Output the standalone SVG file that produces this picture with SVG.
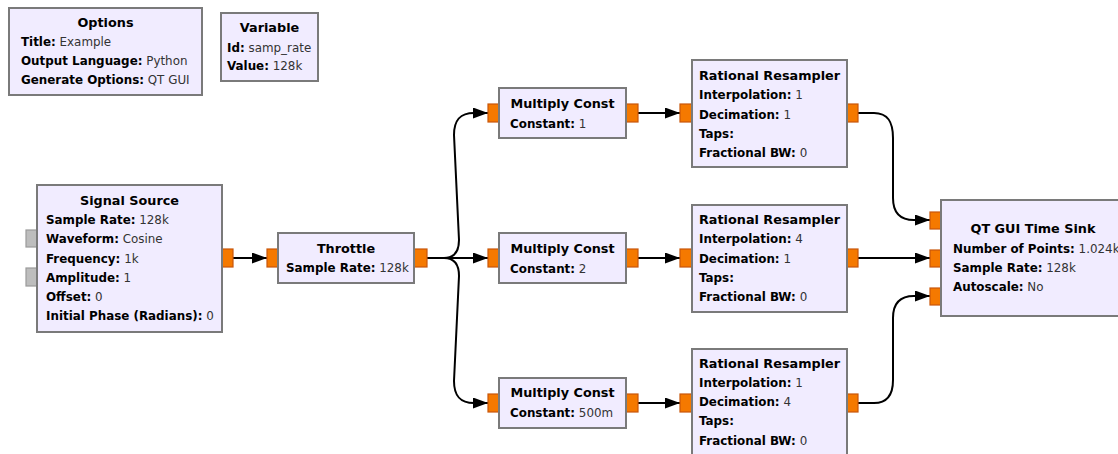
<svg xmlns="http://www.w3.org/2000/svg" width="1118" height="454" viewBox="0 0 1118 454">
  <style>
    .blk { fill: #F1ECFF; stroke: #7a7a7a; stroke-width: 2; }
    .title { font-family: "DejaVu Sans", "Liberation Sans", sans-serif; font-size: 12.8px; font-weight: bold; fill: #000; text-anchor: middle; }
    .row { font-family: "DejaVu Sans", "Liberation Sans", sans-serif; font-size: 11.9px; fill: #333; }
    .row .k { font-weight: bold; fill: #000; }
    .port { fill: #F57900; stroke: #C8560A; stroke-width: 1.2; }
    .gport { fill: #BDBDBD; stroke: #9a9a9a; stroke-width: 1.2; }
    .wire { fill: none; stroke: #000; stroke-width: 2; marker-end: url(#arrow); }
  </style>
  <defs>
    <marker id="arrow" markerUnits="userSpaceOnUse" markerWidth="16" markerHeight="12" refX="15" refY="5.5" orient="auto">
      <path d="M0,0 L15,5.5 L0,11 z" fill="#000"/>
    </marker>
  </defs>
  <rect width="1118" height="454" fill="#fff"/>

  <!-- connections -->
  <g id="connections">
    <path class="wire" d="M233,258 H267"/>
    <path class="wire" d="M427,258 H488"/>
    <path class="wire" d="M427,258 H444 C454,258 459,252 459,240 L454,135 C454,120 460,113 474,113 H488"/>
    <path class="wire" d="M427,258 H444 C454,258 459,264 459,276 L454,381 C454,396 460,403 474,403 H488"/>
    <path class="wire" d="M638,113 H680"/>
    <path class="wire" d="M638,258 H680"/>
    <path class="wire" d="M638,403 H680"/>
    <path class="wire" d="M858,113 H874 C888,113 893,122 893,138 L893,198 C893,212 900,220 914,220 H930"/>
    <path class="wire" d="M858,258 H930"/>
    <path class="wire" d="M858,403 H874 C888,403 893,394 893,380 L893,318 C893,304 900,296 914,296 H930"/>
  </g>

  <!-- Options -->
  <g id="options">
    <rect class="blk" x="9" y="8" width="193" height="87"/>
    <text class="title" x="105.5" y="27">Options</text>
    <text class="row" x="21" y="46"><tspan class="k">Title:</tspan> Example</text>
    <text class="row" x="21" y="65"><tspan class="k">Output Language:</tspan> Python</text>
    <text class="row" x="21" y="84"><tspan class="k">Generate Options:</tspan> QT GUI</text>
  </g>

  <!-- Variable -->
  <g id="variable">
    <rect class="blk" x="221" y="13" width="97" height="68"/>
    <text class="title" x="269.5" y="32">Variable</text>
    <text class="row" x="227" y="52"><tspan class="k">Id:</tspan> samp_rate</text>
    <text class="row" x="227" y="70"><tspan class="k">Value:</tspan> 128k</text>
  </g>

  <!-- Signal Source -->
  <g id="signal_source">
    <rect class="gport" x="26" y="230" width="11" height="17"/>
    <rect class="gport" x="26" y="268" width="11" height="18"/>
    <rect class="port" x="222" y="249" width="11" height="18"/>
    <rect class="blk" x="37" y="185" width="185" height="147"/>
    <text class="title" x="129.5" y="205">Signal Source</text>
    <text class="row" x="46" y="224"><tspan class="k">Sample Rate:</tspan> 128k</text>
    <text class="row" x="46" y="243"><tspan class="k">Waveform:</tspan> Cosine</text>
    <text class="row" x="46" y="263"><tspan class="k">Frequency:</tspan> 1k</text>
    <text class="row" x="46" y="282"><tspan class="k">Amplitude:</tspan> 1</text>
    <text class="row" x="46" y="301"><tspan class="k">Offset:</tspan> 0</text>
    <text class="row" x="46" y="320"><tspan class="k">Initial Phase (Radians):</tspan> 0</text>
  </g>

  <!-- Throttle -->
  <g id="throttle">
    <rect class="port" x="267" y="249" width="11" height="18"/>
    <rect class="port" x="414" y="249" width="13" height="18"/>
    <rect class="blk" x="278" y="233" width="136" height="50"/>
    <text class="title" x="346" y="253">Throttle</text>
    <text class="row" x="286" y="272"><tspan class="k">Sample Rate:</tspan> 128k</text>
  </g>

  <!-- Multiply Const blocks -->
  <g id="multiply_const_0">
    <rect class="port" x="488" y="104" width="11" height="18"/>
    <rect class="port" x="626" y="104" width="12" height="18"/>
    <rect class="blk" x="499" y="88" width="127" height="50"/>
    <text class="title" x="562.5" y="108">Multiply Const</text>
    <text class="row" x="510" y="128"><tspan class="k">Constant:</tspan> 1</text>
  </g>
  <g id="multiply_const_1">
    <rect class="port" x="488" y="249" width="11" height="18"/>
    <rect class="port" x="626" y="249" width="12" height="18"/>
    <rect class="blk" x="499" y="233" width="127" height="50"/>
    <text class="title" x="562.5" y="253">Multiply Const</text>
    <text class="row" x="510" y="273"><tspan class="k">Constant:</tspan> 2</text>
  </g>
  <g id="multiply_const_2">
    <rect class="port" x="488" y="394" width="11" height="18"/>
    <rect class="port" x="626" y="394" width="12" height="18"/>
    <rect class="blk" x="499" y="378" width="127" height="50"/>
    <text class="title" x="562.5" y="397">Multiply Const</text>
    <text class="row" x="510" y="417"><tspan class="k">Constant:</tspan> 500m</text>
  </g>

  <!-- Rational Resampler blocks -->
  <g id="rational_resampler_0">
    <rect class="port" x="680" y="104" width="12" height="18"/>
    <rect class="port" x="847" y="104" width="11" height="18"/>
    <rect class="blk" x="692" y="60" width="155" height="107"/>
    <text class="title" x="769.5" y="80">Rational Resampler</text>
    <text class="row" x="699" y="99"><tspan class="k">Interpolation:</tspan> 1</text>
    <text class="row" x="699" y="119"><tspan class="k">Decimation:</tspan> 1</text>
    <text class="row" x="699" y="138"><tspan class="k">Taps:</tspan></text>
    <text class="row" x="699" y="157"><tspan class="k">Fractional BW:</tspan> 0</text>
  </g>
  <g id="rational_resampler_1">
    <rect class="port" x="680" y="249" width="12" height="18"/>
    <rect class="port" x="847" y="249" width="11" height="18"/>
    <rect class="blk" x="692" y="205" width="155" height="107"/>
    <text class="title" x="769.5" y="224">Rational Resampler</text>
    <text class="row" x="699" y="243"><tspan class="k">Interpolation:</tspan> 4</text>
    <text class="row" x="699" y="263"><tspan class="k">Decimation:</tspan> 1</text>
    <text class="row" x="699" y="282"><tspan class="k">Taps:</tspan></text>
    <text class="row" x="699" y="301"><tspan class="k">Fractional BW:</tspan> 0</text>
  </g>
  <g id="rational_resampler_2">
    <rect class="port" x="680" y="394" width="12" height="18"/>
    <rect class="port" x="847" y="394" width="11" height="18"/>
    <rect class="blk" x="692" y="349" width="155" height="108"/>
    <text class="title" x="769.5" y="368">Rational Resampler</text>
    <text class="row" x="699" y="387"><tspan class="k">Interpolation:</tspan> 1</text>
    <text class="row" x="699" y="406"><tspan class="k">Decimation:</tspan> 4</text>
    <text class="row" x="699" y="425"><tspan class="k">Taps:</tspan></text>
    <text class="row" x="699" y="445"><tspan class="k">Fractional BW:</tspan> 0</text>
  </g>

  <!-- QT GUI Time Sink -->
  <g id="qtgui_time_sink">
    <rect class="port" x="930" y="212" width="11" height="17"/>
    <rect class="port" x="930" y="250" width="11" height="17"/>
    <rect class="port" x="930" y="288" width="11" height="17"/>
    <rect class="blk" x="941" y="200" width="184" height="116"/>
    <text class="title" x="1033" y="233">QT GUI Time Sink</text>
    <text class="row" x="953" y="253"><tspan class="k">Number of Points:</tspan> 1.024k</text>
    <text class="row" x="953" y="272"><tspan class="k">Sample Rate:</tspan> 128k</text>
    <text class="row" x="953" y="291"><tspan class="k">Autoscale:</tspan> No</text>
  </g>
</svg>
